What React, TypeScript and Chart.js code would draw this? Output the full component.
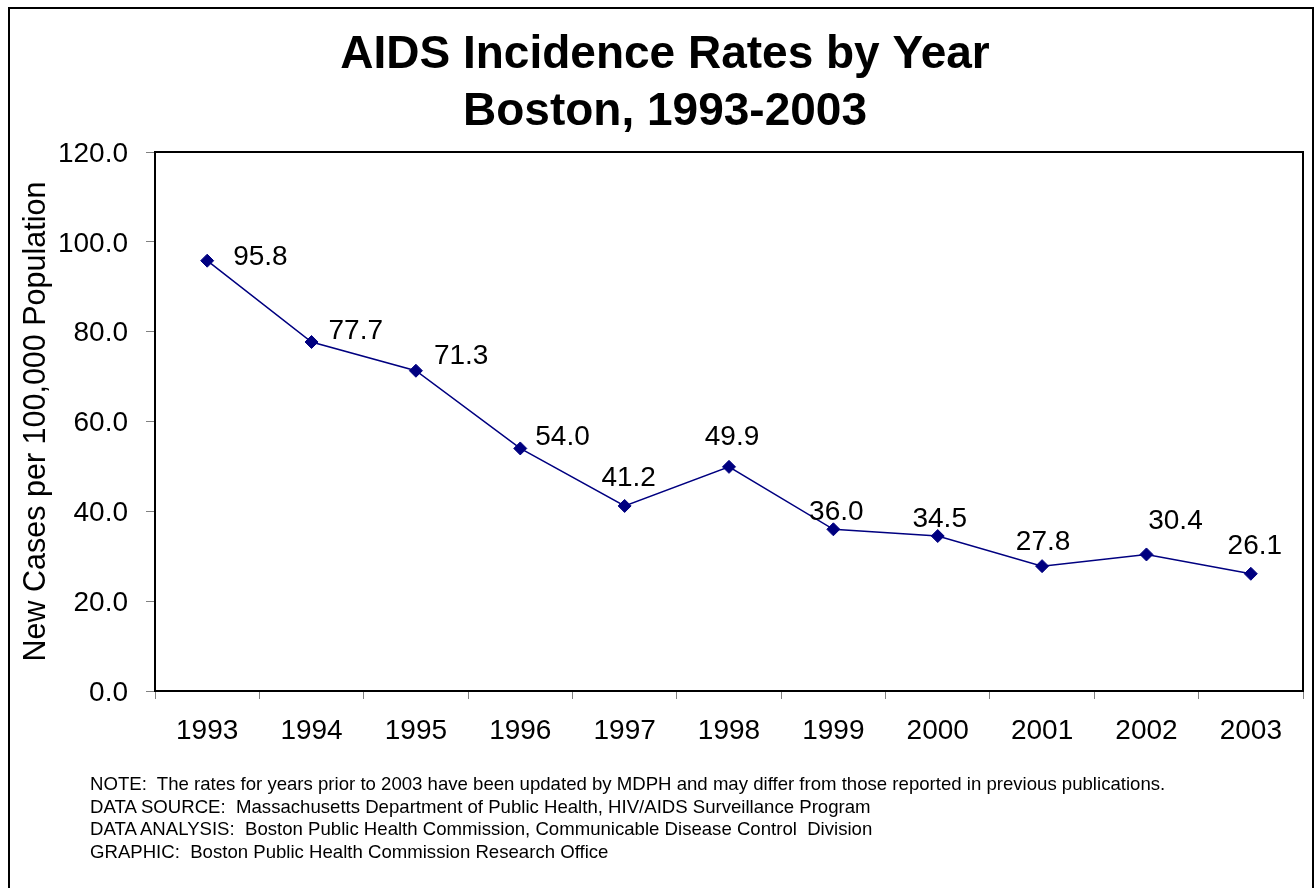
import React, { useEffect, useRef } from "react";
import { Chart, registerables } from "chart.js";

Chart.register(...registerables);

// Annual AIDS incidence, new cases per 100,000 residents
const years = ["1993", "1994", "1995", "1996", "1997", "1998", "1999", "2000", "2001", "2002", "2003"];
const rates = [95.8, 77.7, 71.3, 54.0, 41.2, 49.9, 36.0, 34.5, 27.8, 30.4, 26.1];
// value-label anchor relative to its marker: "right" labels start beside the
// marker, "above" labels are centred over it; nudges are in pixels
const labelPlacement = ["right", "right", "right", "right", "above", "above", "above", "above", "above", "above", "above"];
const labelNudgeX = [26, 17, 18, 15, 4, 3, 3, 2, 1, 29, 4];
const labelNudgeY = [-3, -11, -14, -11, -28, -30, -17, -17, -24, -33, -27];

const titleLines = ["AIDS Incidence Rates by Year", "Boston, 1993-2003"];
const yAxisTitle = "New Cases per 100,000 Population";
const notes = [
  "NOTE:  The rates for years prior to 2003 have been updated by MDPH and may differ from those reported in previous publications.",
  "DATA SOURCE:  Massachusetts Department of Public Health, HIV/AIDS Surveillance Program",
  "DATA ANALYSIS:  Boston Public Health Commission, Communicable Disease Control  Division",
  "GRAPHIC:  Boston Public Health Commission Research Office",
];

const FONT = "'Liberation Sans', Arial, Helvetica, sans-serif";
const NAVY = "#000080";

// two-line bold heading above the plot
const heading = {
  id: "heading",
  afterDraw(chart: any) {
    const { ctx } = chart;
    ctx.save();
    ctx.font = `bold 46px ${FONT}`;
    ctx.fillStyle = "#000";
    ctx.textAlign = "center";
    ctx.textBaseline = "middle";
    titleLines.forEach((line, i) => {
      ctx.fillText(line, 665, 55 + i * 57);
    });
    ctx.restore();
  },
};

// frame around the plotting area
const plotFrame = {
  id: "plotFrame",
  afterDraw(chart: any) {
    const { ctx, chartArea } = chart;
    ctx.save();
    ctx.strokeStyle = "#000";
    ctx.lineWidth = 2;
    ctx.strokeRect(chartArea.left, chartArea.top, chartArea.right - chartArea.left, chartArea.bottom - chartArea.top);
    ctx.restore();
  },
};

// value labels next to each marker
const valueLabels = {
  id: "valueLabels",
  afterDatasetsDraw(chart: any) {
    const { ctx } = chart;
    const meta = chart.getDatasetMeta(0);
    ctx.save();
    ctx.font = `28px ${FONT}`;
    ctx.fillStyle = "#000";
    ctx.textBaseline = "middle";
    meta.data.forEach((pt: any, i: number) => {
      const text = rates[i].toFixed(1);
      ctx.textAlign = labelPlacement[i] === "right" ? "left" : "center";
      ctx.fillText(text, pt.x + labelNudgeX[i], pt.y + labelNudgeY[i]);
    });
    ctx.restore();
  },
};

export default function App() {
  const canvasRef = useRef<HTMLCanvasElement | null>(null);

  useEffect(() => {
    if (!canvasRef.current) return;
    const chart = new Chart(canvasRef.current, {
      type: "line",
      data: {
        labels: years,
        datasets: [
          {
            data: rates,
            borderColor: NAVY,
            borderWidth: 1.5,
            backgroundColor: NAVY,
            pointStyle: "rectRot",
            pointRadius: 6.5,
            pointBorderWidth: 1,
            pointBorderColor: NAVY,
            pointBackgroundColor: NAVY,
            tension: 0,
            fill: false,
          },
        ],
      },
      options: {
        responsive: false,
        animation: false,
        devicePixelRatio: 1,
        layout: { padding: { top: 152, left: 0, right: 13, bottom: 0 } },
        plugins: {
          legend: { display: false },
          tooltip: { enabled: false },
          title: { display: false },
        },
        scales: {
          x: {
            type: "category",
            offset: true,
            afterFit: (scale: any) => {
              scale.height = 197;
            },
            grid: {
              display: true,
              offset: true,
              drawOnChartArea: false,
              drawTicks: true,
              tickLength: 8,
              tickColor: "#808080",
              tickWidth: 1,
            },
            border: { display: false },
            ticks: {
              color: "#000",
              font: { family: FONT, size: 28 },
              padding: 15,
              maxRotation: 0,
              autoSkip: false,
            },
          },
          y: {
            min: 0,
            max: 120,
            afterFit: (scale: any) => {
              scale.width = 155;
            },
            grid: {
              display: true,
              drawOnChartArea: false,
              drawTicks: true,
              tickLength: 9,
              tickColor: "#808080",
              tickWidth: 1,
            },
            border: { display: false },
            ticks: {
              stepSize: 20,
              color: "#000",
              font: { family: FONT, size: 28 },
              padding: 18,
              labelOffset: 2,
              callback: (v: any) => Number(v).toFixed(1),
            },
            title: {
              display: true,
              text: yAxisTitle,
              color: "#000",
              font: { family: FONT, size: 30.5 },
              padding: { top: 18, bottom: 0 },
            },
          },
        },
      },
      plugins: [heading, plotFrame, valueLabels],
    });
    return () => chart.destroy();
  }, []);

  return (
    <div
      style={{
        position: "fixed",
        left: 0,
        top: 0,
        width: 1316,
        height: 888,
        overflow: "hidden",
        background: "#fff",
      }}
    >
      <div
        style={{
          position: "absolute",
          left: 8,
          top: 7,
          width: 1302,
          height: 900,
          border: "2px solid #000",
        }}
      />
      <canvas ref={canvasRef} width={1316} height={888} style={{ position: "absolute", left: 0, top: 0 }} />
      <div
        style={{
          position: "absolute",
          left: 90,
          top: 773,
          fontFamily: FONT,
          fontSize: 18.6,
          lineHeight: "22.5px",
          color: "#000",
          whiteSpace: "pre",
        }}
      >
        {notes.map((n) => (
          <div key={n}>{n}</div>
        ))}
      </div>
    </div>
  );
}
